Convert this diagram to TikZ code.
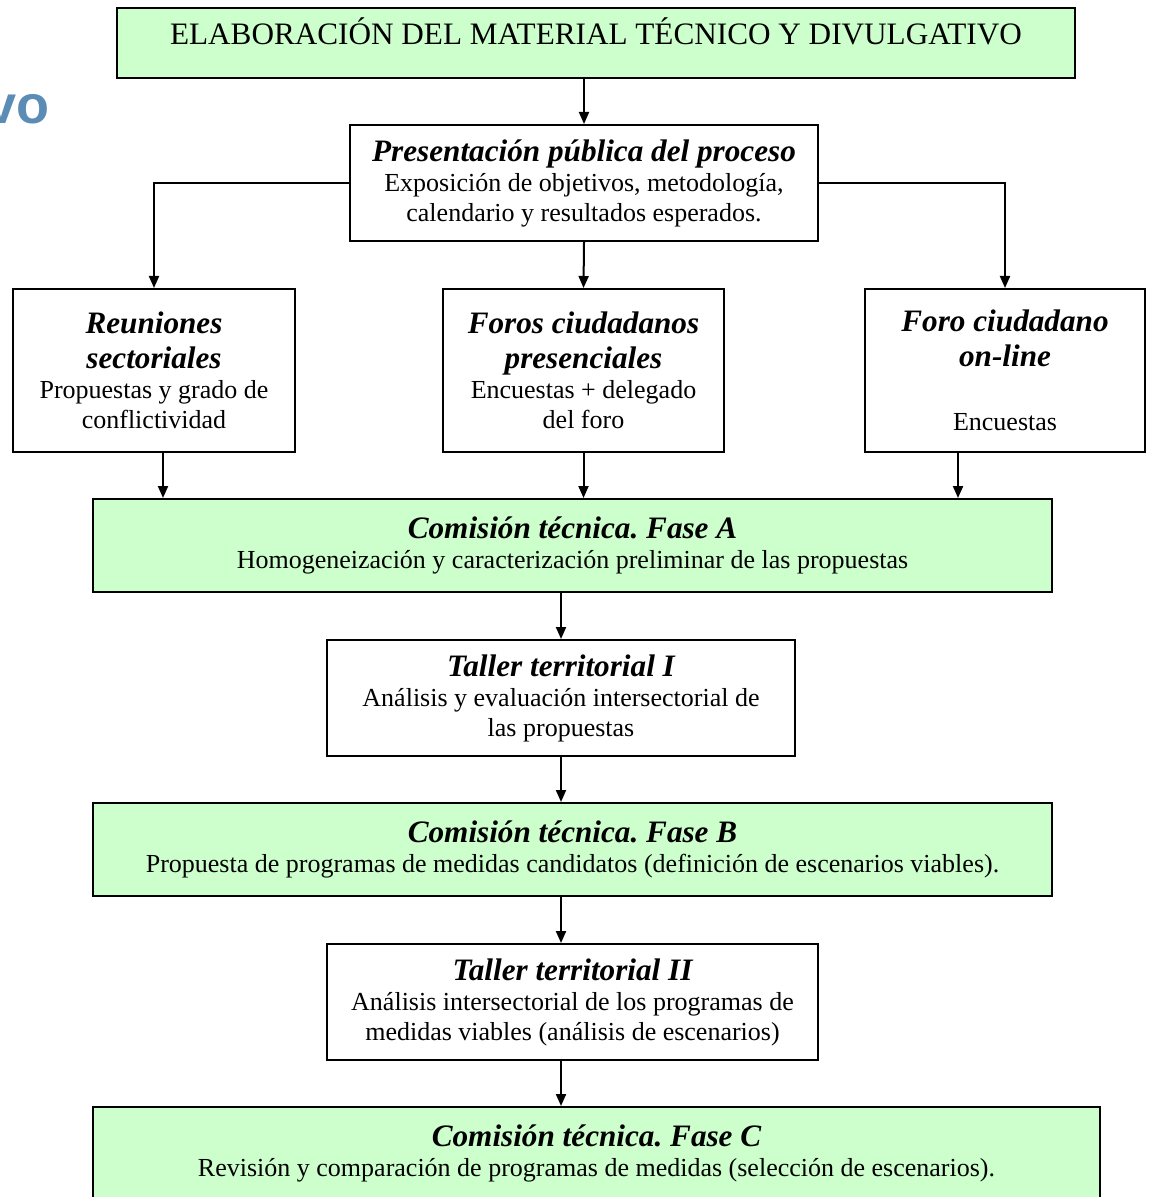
\documentclass[tikz,border=0pt]{standalone}
\usepackage{fontspec}
\setmainfont{Liberation Serif}
\newfontfamily\slidefont{Liberation Sans}
\usetikzlibrary{arrows.meta,calc}
\frenchspacing

\definecolor{paleGreen}{RGB}{204,255,204}
\definecolor{slideBlue}{RGB}{91,140,182}

\newcommand{\ttl}[1]{{\fontsize{15.6}{17.5}\selectfont\bfseries\itshape #1}}

\begin{document}
\begin{tikzpicture}[x=0.5pt, y=-0.5pt,
  box/.style={draw, line width=1pt, align=center, inner sep=2pt,
    font=\fontsize{13}{15}\selectfont},
  greenbox/.style={box, fill=paleGreen},
  flow/.style={-{Triangle[length=6pt,width=5pt]}, line width=1pt}]

\clip (0,0) rectangle (1148,1197);

% cut title of the slide
\node[anchor=base east, inner sep=0pt, text=slideBlue,
  font=\slidefont\fontsize{27}{30}\selectfont\bfseries] (slidetitle) at (50,124) {vo};

\node[greenbox, minimum width=479pt, minimum height=35pt,
  text height=10.5pt, text depth=8.5pt,
  font=\fontsize{15.6}{17}\selectfont] (material) at (596,43)
  {ELABORACIÓN DEL MATERIAL TÉCNICO Y DIVULGATIVO};

\node[box, minimum width=234pt, minimum height=58pt] (presentacion) at (584,183)
  {\ttl{Presentación pública del proceso}\\
   Exposición de objetivos, metodología,\\
   calendario y resultados esperados.};

\node[box, minimum width=141pt, minimum height=81.5pt] (reuniones) at (154,370.5)
  {\ttl{Reuniones}\\[2.5pt] \ttl{sectoriales}\\
   Propuestas y grado de\\ conflictividad};
\node[box, minimum width=140.5pt, minimum height=81.5pt] (foros) at (583.5,370.5)
  {\ttl{Foros ciudadanos}\\[2.5pt] \ttl{presenciales}\\
   Encuestas + delegado\\ del foro};
\node[box, minimum width=140pt, minimum height=81.5pt] (online) at (1005,370.5)
  {\ttl{Foro ciudadano}\\[2.5pt] \ttl{on-line}\\[17pt]
   Encuestas};

\node[greenbox, minimum width=479.5pt, minimum height=46.5pt] (faseA) at (572.5,545.5)
  {\ttl{Comisión técnica. Fase A}\\
   Homogeneización y caracterización preliminar de las propuestas};

\node[box, minimum width=234pt, minimum height=58pt] (tallerI) at (561,698)
  {\ttl{Taller territorial I}\\
   Análisis y evaluación intersectorial de\\ las propuestas};

\node[greenbox, minimum width=479.5pt, minimum height=46.5pt] (faseB) at (572.5,849.5)
  {\ttl{Comisión técnica. Fase B}\\
   Propuesta de programas de medidas candidatos (definición de escenarios viables).};

\node[box, minimum width=245.5pt, minimum height=58pt] (tallerII) at (572.5,1002)
  {\ttl{Taller territorial II}\\
   Análisis intersectorial de los programas de\\
   medidas viables (análisis de escenarios)};

\node[greenbox, minimum width=503.5pt, minimum height=46.5pt] (faseC) at (596.5,1153.5)
  {\ttl{Comisión técnica. Fase C}\\
   Revisión y comparación de programas de medidas (selección de escenarios).};

\draw[flow] (material.south -| presentacion.north) -- (presentacion.north);
\draw[flow] (presentacion.west) -| (reuniones.north);
\draw[flow] (presentacion.east) -| (online.north);
\draw[flow] (presentacion.south) -- (foros.north);

\draw[flow] ([xshift=4.5pt]reuniones.south) -- ([xshift=4.5pt]reuniones.south |- faseA.north);
\draw[flow] (foros.south) -- (foros.south |- faseA.north);
\draw[flow] ([xshift=-23.5pt]online.south) -- ([xshift=-23.5pt]online.south |- faseA.north);

\draw[flow] (faseA.south -| tallerI.north) -- (tallerI.north);
\draw[flow] (tallerI.south) -- (tallerI.south |- faseB.north);
\draw[flow] (faseB.south -| tallerI.south) -- (tallerII.north -| tallerI.south);
\draw[flow] (tallerII.south -| tallerI.south) -- (faseC.north -| tallerI.south);

\end{tikzpicture}
\end{document}
